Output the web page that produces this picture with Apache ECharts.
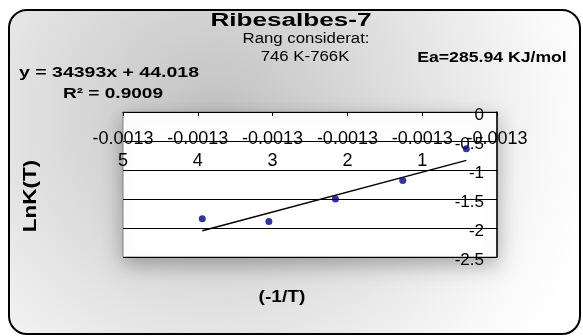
<!DOCTYPE html>
<html>
<head>
<meta charset="utf-8">
<script src="https://cdn.jsdelivr.net/npm/echarts@6/dist/echarts.min.js"></script>
<style>
  html, body { margin: 0; padding: 0; background: #ffffff; }
  #chart { width: 583px; height: 336px; }
</style>
</head>
<body>
<div id="chart"></div>
<script>
// Arrhenius plot: LnK(T) against -1/T, with the least-squares trendline
const xValues = [-0.0013394, -0.0013305, -0.0013216, -0.0013126, -0.0013041];
const lnK = [-1.84, -1.89, -1.50, -1.18, -0.635];

// Trendline coefficients as printed on the chart
const slope = 34393;
const intercept = 44.018;

const xTickLabels = ['-0.0013\n5', '-0.0013\n4', '-0.0013\n3', '-0.0013\n2', '-0.0013\n1', '-0.0013'];
const yTickLabels = ['-2.5', '-2', '-1.5', '-1', '-0.5', '0'];

const X_MIN = -0.00135, X_MAX = -0.0013, X_STEP = 0.00001;
const Y_MIN = -2.5, Y_MAX = 0, Y_STEP = 0.5;

const FONT = '"Liberation Sans", Arial, sans-serif';

const points = xValues.map((x, i) => [x, lnK[i]]);
const xLo = Math.min.apply(null, xValues), xHi = Math.max.apply(null, xValues);
const trend = [[xLo, slope * xLo + intercept], [xHi, slope * xHi + intercept]];

function label(text, x, y, size, bold, extra) {
  return Object.assign({
    type: 'text', x: x, y: y, z: 10,
    style: {
      text: text,
      font: (bold ? 'bold ' : '') + size + 'px ' + FONT,
      fill: '#000',
      textAlign: 'center',
      textVerticalAlign: 'middle'
    }
  }, extra || {});
}

const chart = echarts.init(document.getElementById('chart'));
chart.setOption({
  animation: false,
  backgroundColor: '#ffffff',
  graphic: [
    {
      type: 'rect', z: -10,
      shape: { x: 9, y: 10, width: 571, height: 324, r: 18 },
      style: {
        // soft grey glow towards the upper left, fading to white
        fill: new echarts.graphic.RadialGradient(215, 115, 390, [
          { offset: 0, color: '#c2c2c2' },
          { offset: 0.45, color: '#dedede' },
          { offset: 0.85, color: '#f8f8f8' },
          { offset: 1, color: '#ffffff' }
        ], true),
        stroke: '#000', lineWidth: 2
      }
    },
    label('Ribesalbes-7', 291, 21, 18, true, { scaleX: 1.45 }),
    label('Rang considerat:', 306, 39, 14, false, { scaleX: 1.2 }),
    label('746 K-766K', 305, 57, 14, false, { scaleX: 1.2 }),
    label('Ea=285.94 KJ/mol', 492, 58, 14, true, { scaleX: 1.26 }),
    label('y = ' + slope + 'x + ' + intercept, 109, 73, 15, true, { scaleX: 1.3 }),
    label('R² = 0.9009', 113, 94, 15, true, { scaleX: 1.27 }),
    label('LnK(T)', 31, 196, 18, true, { rotation: Math.PI / 2, scaleX: 1.25 }),
    label('(-1/T)', 282, 298, 16, true, { scaleX: 1.2 })
  ],
  grid: {
    left: 123, right: 86, top: 112, bottom: 79,
    show: true,
    backgroundColor: '#ffffff',
    borderColor: '#808080',
    borderWidth: 1,
    shadowBlur: 20,
    shadowOffsetY: 7,
    shadowColor: 'rgba(0,0,0,0.3)'
  },
  xAxis: {
    type: 'value',
    position: 'top',
    min: X_MIN, max: X_MAX, interval: X_STEP,
    axisLine: { show: true, lineStyle: { color: '#000', width: 1 } },
    axisTick: { show: true, inside: true, length: 4, lineStyle: { color: '#000' } },
    splitLine: { show: false },
    axisLabel: {
      inside: true, margin: 16,
      fontFamily: FONT, fontSize: 18, color: '#000', lineHeight: 22,
      showMinLabel: true, showMaxLabel: true,
      formatter: v => xTickLabels[Math.round((v - X_MIN) / X_STEP)]
    }
  },
  yAxis: {
    type: 'value',
    position: 'right',
    min: Y_MIN, max: Y_MAX, interval: Y_STEP,
    axisLine: { show: true, lineStyle: { color: '#000', width: 1.5 } },
    axisTick: { show: true, inside: true, length: 5, lineStyle: { color: '#000' } },
    splitLine: { show: true, lineStyle: { color: '#000', width: 1 } },
    axisLabel: {
      inside: true, margin: 13,
      verticalAlign: 'top', lineHeight: 6,
      fontFamily: FONT, fontSize: 17, color: '#000',
      showMinLabel: true, showMaxLabel: true,
      formatter: v => yTickLabels[Math.round((v - Y_MIN) / Y_STEP)]
    }
  },
  series: [
    {
      type: 'line',
      data: trend,
      symbol: 'none',
      lineStyle: { color: '#000', width: 1.5 },
      z: 3
    },
    {
      type: 'scatter',
      data: points,
      symbol: 'circle',
      symbolSize: 7,
      itemStyle: { color: '#000080' },
      z: 4
    }
  ]
});
</script>
</body>
</html>
